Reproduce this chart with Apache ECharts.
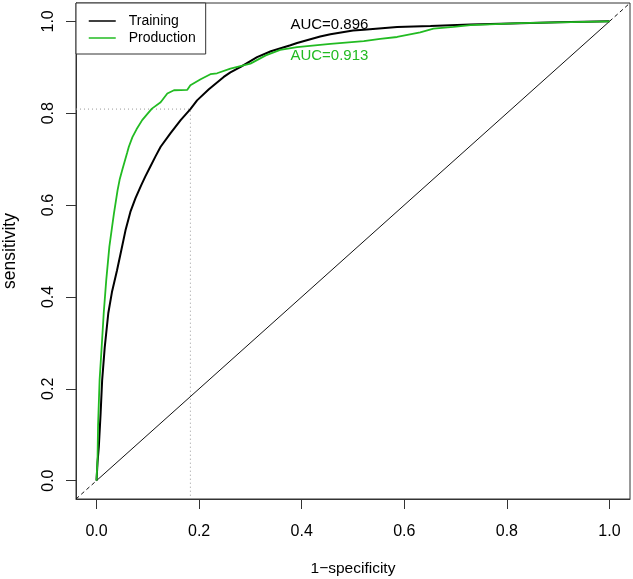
<!DOCTYPE html>
<html>
<head>
<meta charset="utf-8">
<script src="https://cdn.jsdelivr.net/npm/echarts@6/dist/echarts.min.js"></script>
<style>
html,body{margin:0;padding:0;background:#fff;}
#chart{width:633px;height:579px;}
</style>
</head>
<body>
<div id="chart"></div>
<script>
// ---- data ----
const trainingX = [0,0.002,0.0045,0.008,0.011,0.016,0.023,0.030,0.040,0.048,0.0565,0.066,0.076,0.087,0.095,0.105,0.115,0.125,0.144,0.164,0.183,0.196,0.219,0.248,0.261,0.281,0.313,0.340,0.378,0.391,0.436,0.456,0.500,0.521,0.586,0.651,0.729,0.826,0.900,1.0];
const trainingY = [0,0.040,0.074,0.147,0.219,0.290,0.365,0.410,0.458,0.500,0.545,0.585,0.615,0.643,0.662,0.684,0.706,0.727,0.756,0.785,0.809,0.828,0.852,0.879,0.889,0.901,0.922,0.935,0.948,0.953,0.967,0.972,0.980,0.982,0.988,0.990,0.993,0.996,0.998,1.0];
const productionX = [0,0.002,0.003,0.006,0.010,0.014,0.019,0.025,0.030,0.034,0.041,0.045,0.050,0.060,0.063,0.070,0.078,0.089,0.098,0.108,0.125,0.138,0.151,0.177,0.183,0.203,0.222,0.235,0.261,0.300,0.330,0.358,0.391,0.456,0.521,0.553,0.586,0.631,0.657,0.696,0.729,0.826,0.900,1.0];
const productionY = [0,0.05,0.12,0.219,0.29,0.364,0.437,0.509,0.55,0.582,0.632,0.655,0.676,0.715,0.727,0.748,0.765,0.785,0.797,0.810,0.824,0.843,0.850,0.851,0.861,0.874,0.885,0.887,0.897,0.908,0.926,0.938,0.944,0.951,0.957,0.962,0.966,0.976,0.984,0.988,0.992,0.996,0.998,1.0];
const seriesNames = ['Training','Production'];
const aucLabels = ['AUC=0.896','AUC=0.913'];
const aucPosX = [0.454, 0.454];
const aucPosY = [0.993, 0.924];
const cutoff = [0.183, 0.809];
const tickValues = [0,0.2,0.4,0.6,0.8,1.0];
const axisMin = -0.04, axisMax = 1.04;

const colors = ['#000000', '#22bb22'];
const font = 'Liberation Sans, Arial, Helvetica, sans-serif';

function zip(xs, ys){ return xs.map((x,i)=>[x, ys[i]]); }

const chart = echarts.init(document.getElementById('chart'), null, {renderer:'canvas'});

const axisCommon = {
  type:'value', min:axisMin, max:axisMax,
  axisLine:{show:true, onZero:false, lineStyle:{color:'#333', width:1}},
  splitLine:{show:false},
  axisTick:{show:true, inside:false, length:10, customValues:tickValues, lineStyle:{color:'#333', width:1}},
};

const option = {
  animation:false,
  backgroundColor:'#fff',
  grid:{left:76, right:3, top:3, bottom:80, show:true, borderColor:'#333', borderWidth:1, backgroundColor:'#fff', outerBoundsMode:'none'},
  legend:{
    data:seriesNames, orient:'vertical', left:76, top:3,
    padding:[11,10,9,12], itemWidth:27, itemHeight:14, itemGap:3,
    borderColor:'#333', borderWidth:1, borderRadius:0, backgroundColor:'#fff',
    itemStyle:{color:'rgba(0,0,0,0)', borderWidth:0, opacity:0},
    lineStyle:{width:1.5},
    textStyle:{fontSize:14, fontFamily:font, color:'#000', padding:[0,0,0,8]},
    selectedMode:false
  },
  xAxis:Object.assign({}, axisCommon, {
    axisLabel:{customValues:tickValues, formatter:v=>v.toFixed(1), fontSize:16, margin:25, color:'#000', fontFamily:font},
    name:'1\u2212specificity', nameLocation:'middle', nameGap:62,
    nameTextStyle:{fontSize:15.5, color:'#000', fontFamily:font}
  }),
  yAxis:Object.assign({}, axisCommon, {
    axisLabel:{customValues:tickValues, formatter:v=>v.toFixed(1), fontSize:16, margin:19, color:'#000', fontFamily:font, rotate:90},
    name:'sensitivity', nameLocation:'middle', nameGap:57, nameRotate:90,
    nameTextStyle:{fontSize:17.5, color:'#000', fontFamily:font}
  }),
  series:[
    {type:'line', name:'diag', data:[[0,0],[1,1]], symbol:'none', silent:true,
     lineStyle:{color:'#111', width:1}},
    {type:'line', name:'diagLow', data:[[axisMin,axisMin],[0,0]], symbol:'none', silent:true,
     lineStyle:{color:'#111', width:1, type:[4,3]}},
    {type:'line', name:'diagHigh', data:[[1,1],[axisMax,axisMax]], symbol:'none', silent:true,
     lineStyle:{color:'#111', width:1, type:[4,3]}},
    {type:'line', name:'cutoff', data:[[axisMin,cutoff[1]],[cutoff[0],cutoff[1]],[cutoff[0],axisMin]], symbol:'none', silent:true,
     lineStyle:{color:'#999', width:1, type:[1,3]}},
    {type:'line', name:seriesNames[0], data:zip(trainingX,trainingY), symbol:'none',
     lineStyle:{color:colors[0], width:2}, itemStyle:{color:colors[0]}},
    {type:'line', name:seriesNames[1], data:zip(productionX,productionY), symbol:'none',
     lineStyle:{color:colors[1], width:1.8}, itemStyle:{color:colors[1]}},
    {type:'scatter', name:'auc', symbolSize:0, silent:true, z:5,
     data:aucLabels.map((t,i)=>({value:[aucPosX[i],aucPosY[i]],
       itemStyle:{color:colors[i], opacity:1},
       label:{show:true, formatter:t, position:'inside', fontSize:15, fontFamily:font, color:colors[i],
              textBorderWidth:0, textBorderColor:'transparent', opacity:1}}))}
  ]
};
chart.setOption(option);
</script>
</body>
</html>
